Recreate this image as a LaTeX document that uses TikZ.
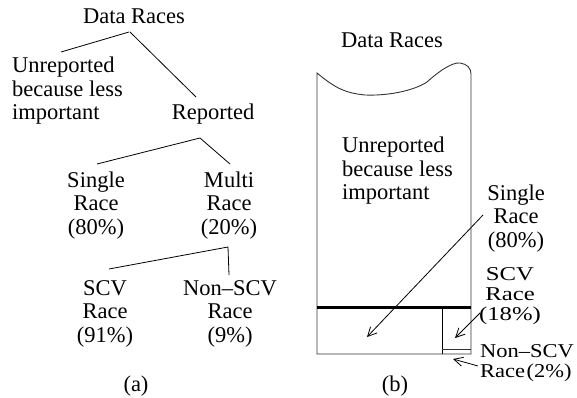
\documentclass[tikz,border=0pt]{standalone}
\usepackage{fontspec}
\setmainfont{Liberation Serif}
\usetikzlibrary{arrows.meta}
\newcommand\lblfont{\fontsize{22.5}{23.5}\selectfont}
\newcommand\mlines[2][c]{\begin{tabular}[t]{@{}#1@{}}#2\end{tabular}}
\newcommand\squeezed[2][1]{\scalebox{#1}[0.87]{#2}}
\begin{document}
\begin{tikzpicture}[x=1pt,y=-1pt,
  lbl/.style={font=\lblfont, inner sep=0pt, anchor=base},
  lblw/.style={font=\lblfont, inner sep=0pt, anchor=base west},
  branch/.style={line width=0.8pt},
  boxline/.style={line width=0.9pt, draw=black!80},
  pointer/.style={line width=0.8pt, -{Straight Barb[length=9pt,width=9pt]}}]
\useasboundingbox (0,0) rectangle (577,398);

% ---------- (a) classification tree ----------
\node[lbl]  (dra)    at (134,24)  {\mlines{Data Races}};
\node[lblw] (unrep)  at (12,73)   {\mlines[l]{Unreported\\because less\\important}};
\node[lbl]  (rep)    at (213,120) {\mlines{Reported}};
\node[lbl]  (single) at (96,187)  {\mlines{Single\\Race\\(80\%)}};
\node[lbl]  (multi)  at (229,187) {\mlines{Multi\\Race\\(20\%)}};
\node[lbl]  (scv)    at (105,295) {\mlines{SCV\\Race\\(91\%)}};
\node[lbl]  (nscv)   at (230,295) {\mlines{Non\textendash SCV\\Race\\(9\%)}};
\node[lbl]  (capa)   at (136,391) {(a)};

\draw[branch] ([shift={(-5,8)}]dra.base) -- ([shift={(49,-21)}]unrep.base west);
\draw[branch] ([shift={(-4,8)}]dra.base) -- ([shift={(-17,-23)}]rep.base);
\draw[branch] ([shift={(1,-23)}]single.base) -- ([shift={(-13,18)}]rep.base)
              -- ([shift={(1,-23)}]multi.base);
\draw[branch] ([shift={(4,-26)}]scv.base) -- ([shift={(-1,60)}]multi.base)
              -- ([shift={(-1,-20)}]nscv.base);

% ---------- (b) proportion chart ----------
\node[lbl]  (drb)     at (392,48)  {\mlines{Data Races}};
\node[lblw] (unrepb)  at (342,153) {\mlines[l]{Unreported\\because less\\important}};
\node[lbl]  (singleb) at (516,200) {\mlines{Single\\Race\\(80\%)}};
\node[lbl]  (scvb)    at (510,280) {\squeezed[1.1]{\mlines{SCV\\Race\\(18\%)}}};
\node[lblw] (nscvb)   at (480,357) {\squeezed{\mlines[l]{Non\textendash SCV\\Race\hspace{1.5pt}(2\%)}}};
\node[lbl]  (capb)    at (395,391) {(b)};

% torn-top column
\draw[boxline] (471,74) .. controls (471,68) and (467,64) .. (460,63)
  .. controls (452,62) and (438,72) .. (427,82)
  .. controls (415,90) and (390,96) .. (365,95)
  .. controls (345,93) and (335,88) .. (317,73)
  -- (317,354) -- (471,354) -- cycle;
\draw[line width=3pt] (317,307) -- (471,307);
\draw[line width=0.9pt] (442,307) -- (442,354);
\draw[boxline] (442,349) -- (471,349);

\coordinate (tipS) at (367,337);
\coordinate (tipC) at (455,338);
\coordinate (tipN) at (453,359);
\draw[pointer] ([shift={(-33,15)}]singleb.base) -- (tipS);
\draw[pointer] ([shift={(-30,33)}]scvb.base) -- (tipC);
\draw[pointer] ([shift={(-2,9)}]nscvb.base west) -- (tipN);
\end{tikzpicture}
\end{document}
